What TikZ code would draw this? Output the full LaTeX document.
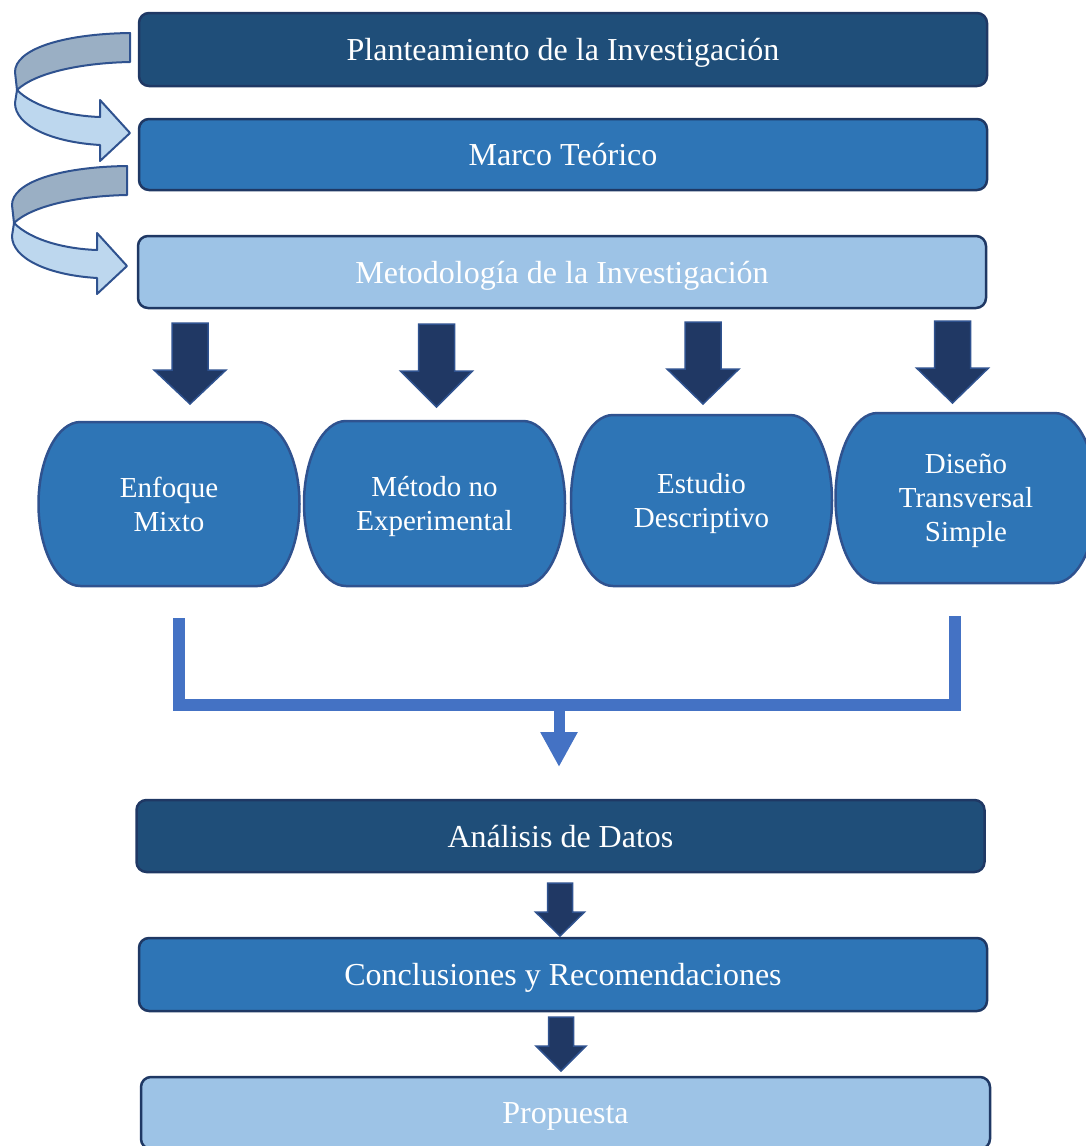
\documentclass[tikz,border=0pt]{standalone}
\usepackage{fontspec}
\setmainfont{Liberation Serif}
\usetikzlibrary{positioning, arrows.meta, calc, backgrounds}

\definecolor{azulOscuro}{HTML}{1F4E79}
\definecolor{azulMedio}{HTML}{2E75B6}
\definecolor{azulClaro}{HTML}{9DC3E6}
\definecolor{bordeCaja}{HTML}{1F3864}
\definecolor{bordeOvalo}{HTML}{2F528F}
\definecolor{azulFlecha}{HTML}{203864}
\definecolor{azulLinea}{HTML}{4472C4}
\definecolor{grisCurva}{HTML}{9AAFC4}
\definecolor{celesteCurva}{HTML}{BDD7EE}

\begin{document}
\begin{tikzpicture}[x=1pt, y=-1pt, >=Stealth]

  % --- CONFIGURACIÓN GENERAL ---
  \useasboundingbox (0,0) rectangle (1086,1146);
  \def\rx{42}

  % Estilos
  \tikzstyle{caja}=[draw=bordeCaja, line width=2.5pt, rounded corners=10pt, minimum width=848pt, minimum height=72pt, inner sep=0pt, outer sep=0pt, text depth=0pt, text=white, font=\fontsize{32}{38}\selectfont]
  \tikzstyle{ovalo}=[minimum width=261pt, inner sep=0pt, outer sep=0pt, text depth=0pt, align=center, text=white, font=\fontsize{29}{34}\selectfont]
  \tikzstyle{bordeOv}=[fill=azulMedio, draw=bordeOvalo, line width=2.5pt]
  \tikzstyle{flecha}=[fill=azulFlecha, draw=bordeOvalo, line width=1.5pt]
  \tikzstyle{conector}=[draw=azulLinea, line width=12pt]
  \tikzstyle{curva}=[draw=bordeOvalo, line width=2pt, line join=round]

  % --- CAJAS SUPERIORES ---
  \node[caja, fill=azulOscuro, minimum height=73pt] (plan) at (563,49.5) {Planteamiento de la Investigación};
  \node[caja, fill=azulMedio, minimum height=71pt] (marco) at (563,154.5) {Marco Teórico};
  \node[caja, fill=azulClaro] (metodologia) at (562,272) {Metodología de la Investigación};

  % --- FLECHAS CURVAS (izquierda) ---
  \foreach \dx/\dy in {0/0, -3/133} {
    \begin{scope}[shift={(\dx,\dy)}]
      \draw[curva, fill=celesteCurva] (17,90) .. controls (35,108) and (70,116) .. (100,117)
        -- (100,100) -- (130,133) -- (100,161) -- (100,145)
        .. controls (50,142) and (15,125) .. (15,103) -- cycle;
      \draw[curva, fill=grisCurva] (130,33) .. controls (60,34) and (15,50) .. (15,72)
        -- (17,90) .. controls (35,73) and (80,63) .. (130,62) -- cycle;
    \end{scope}
  }

  % --- FLECHAS HACIA LOS ÓVALOS ---
  \foreach \cx/\yt/\yh/\yp/\s/\h in {190/323/370/404/18/36, 436.5/324/371/407/18/36, 703/322/369/404/18/36, 952.5/321/368/403/18/36, 560/883/912/936/12.5/24.5, 561/1017/1046/1071/12.5/25} {
    \draw[flecha] (\cx-\s,\yt) -- (\cx+\s,\yt) -- (\cx+\s,\yh) -- (\cx+\h,\yh) -- (\cx,\yp)
      -- (\cx-\h,\yh) -- (\cx-\s,\yh) -- cycle;
  }

  % --- ÓVALOS ---
  \node[ovalo, minimum height=164pt] (enfoque) at (169,504) {Enfoque\\Mixto};
  \node[ovalo, minimum height=165pt] (metodo) at (434.5,503.5) {Método no\\Experimental};
  \node[ovalo, minimum height=171pt] (estudio) at (701.5,500.5) {Estudio\\Descriptivo};
  \node[ovalo, minimum height=170pt] (diseno) at (966,498) {Diseño\\Transversal\\Simple};

  % Contorno de los óvalos (detrás del texto)
  \begin{scope}[on background layer]
    \foreach \o in {enfoque, metodo, estudio, diseno} {
      \draw[bordeOv] let \p1=(\o.north), \p2=(\o.south), \n1={0.5*(\y1-\y2)} in
        ($(\o.north west)+(\rx,0)$) -- ($(\o.north east)+(-\rx,0)$)
        arc[start angle=90, end angle=-90, x radius=\rx pt, y radius=\n1]
        -- ($(\o.south west)+(\rx,0)$)
        arc[start angle=270, end angle=90, x radius=\rx pt, y radius=\n1] -- cycle;
    }
  \end{scope}

  % --- CONECTOR QUE REÚNE LOS ÓVALOS ---
  \coordinate (bIzq) at (179,618);
  \coordinate (bDer) at (955,616);
  \coordinate (bMed) at (559,705);
  \coordinate (bFin) at (559,767);
  \draw[conector] (bIzq) -- ++(0,87) -| (bDer);
  \draw[conector, line width=11pt, -{Triangle[width=35pt, length=35pt]}] (bMed) -- (bFin);

  % --- CAJAS INFERIORES ---
  \node[caja, fill=azulOscuro] (analisis) at (560.5,836) {Análisis de Datos};
  \node[caja, fill=azulMedio, minimum height=73pt] (conclusiones) at (563,974.5) {Conclusiones y Recomendaciones};
  \node[caja, fill=azulClaro, minimum width=849pt] (propuesta) at (565.5,1113) {Propuesta};

\end{tikzpicture}
\end{document}
